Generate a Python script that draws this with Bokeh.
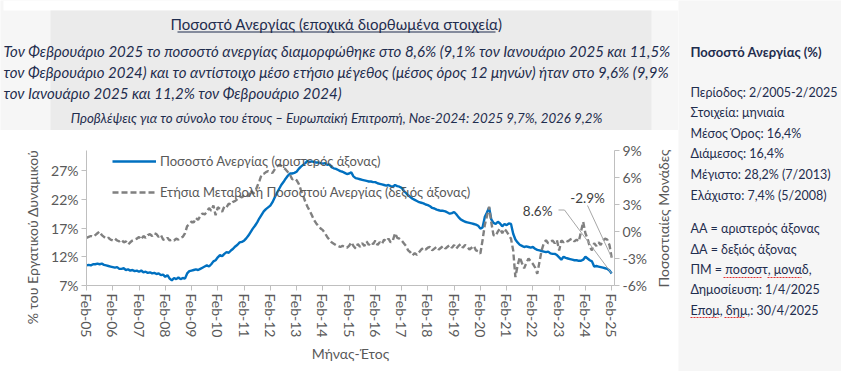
import math
from bokeh.plotting import figure
from bokeh.layouts import row, column
from bokeh.models import (Range1d, LinearAxis, FixedTicker, Label, Legend, LegendItem,
                          BoxAnnotation, Arrow)
from bokeh.embed import file_html
from bokeh.resources import INLINE

# ---------------- data ----------------
# unemployment rate, % (left axis), monthly Feb-2005 .. Feb-2025
u2005 = [10.0, 10.1, 10.0, 10.2, 10.2, 10.3, 10.2, 10.3, 10.1, 10.0, 9.9]
u2006 = [9.8, 9.7, 9.6, 9.7, 9.4, 9.4, 9.5, 9.2, 9.3, 9.1, 9.2, 9.0]
u2007 = [9.1, 8.9, 9.1, 8.8, 8.9, 8.7, 8.8, 8.6, 8.7, 8.5, 8.6, 8.3]
u2008 = [8.4, 8.0, 8.3, 7.7, 7.4, 7.8, 7.6, 7.9, 7.6, 7.8, 7.7, 8.6]
u2009 = [9.0, 9.1, 9.2, 9.3, 9.2, 9.4, 9.6, 9.8, 10.0, 9.8, 10.2, 10.7]
u2010 = [10.9, 11.4, 11.8, 11.6, 12.0, 12.3, 12.2, 12.6, 12.9, 13.3, 13.6, 14.0]
u2011 = [14.1, 14.3, 14.7, 15.2, 15.8, 16.4, 16.9, 17.5, 18.2, 18.8, 19.4, 19.8]
u2012 = [20.1, 20.4, 21.0, 21.8, 22.6, 23.3, 24.0, 24.5, 25.1, 25.6, 26.0, 26.0]
u2013 = [26.1, 26.3, 26.8, 27.2, 27.5, 27.8, 28.2, 28.0, 28.1, 28.0, 27.9, 27.9]
u2014 = [27.8, 27.7, 27.8, 27.5, 27.6, 27.1, 26.9, 26.8, 26.6, 26.4, 26.3, 26.1]
u2015 = [25.9, 26.0, 26.2, 25.5, 25.2, 25.1, 25.0, 24.9, 24.8, 24.7, 24.6, 24.6]
u2016 = [24.5, 24.5, 24.3, 24.2, 24.1, 24.0, 23.9, 24.0, 23.8, 23.7, 24.0, 23.8]
u2017 = [23.7, 23.5, 23.0, 22.6, 22.2, 21.9, 21.6, 21.4, 21.2, 21.0, 20.9, 20.8]
u2018 = [20.6, 20.5, 20.3, 20.0, 19.9, 19.7, 19.6, 19.5, 19.5, 19.4, 19.2, 19.0]
u2019 = [19.1, 19.3, 18.9, 18.4, 18.0, 17.8, 17.6, 17.5, 17.4, 17.3, 17.2, 17.1]
u2020 = [16.9, 16.4, 16.6, 18.4, 19.2, 20.1, 18.0, 17.4, 17.2, 17.6, 17.3, 16.8]
u2021 = [17.2, 17.0, 17.3, 17.2, 15.5, 14.5, 14.0, 13.6, 13.4, 13.2, 13.3, 13.2]
u2022 = [13.1, 13.2, 12.9, 12.7, 12.6, 12.5, 12.4, 12.3, 12.4, 12.1, 12.0, 12.0]
u2023 = [11.8, 11.4, 11.0, 11.5, 11.3, 11.2, 11.1, 11.0, 10.9, 10.9, 10.8, 10.8]
u2024 = [11.0, 11.5, 11.2, 10.9, 10.7, 9.8, 9.9, 9.8, 9.7, 9.6, 9.5, 9.4]
u2025 = [9.1, 8.6]

# annual change of the unemployment rate, percentage points (right axis)
d2005 = [-0.7, -0.6, -0.5, -0.6, -0.4, -0.2, 0.0, -0.4, -0.6, -0.8, -0.7]
d2006 = [-0.9, -1.0, -0.8, -1.0, -1.1, -0.9, -1.2, -1.1, -1.45, -1.2, -1.0, -0.9]
d2007 = [-0.8, -0.6, -0.9, -0.5, -0.7, -0.4, -0.3, -0.5, -0.2, -0.3, -0.6, -0.4]
d2008 = [-0.9, -0.95, -0.7, -1.0, -0.9, -1.0, -0.8, -0.9, -0.7, -0.6, -0.2, 0.6]
d2009 = [0.8, 1.1, 1.0, 1.5, 1.3, 1.7, 2.0, 1.9, 2.2, 2.6, 2.3, 2.9]
d2010 = [1.8, 2.7, 2.5, 2.2, 2.8, 2.7, 3.1, 3.0, 3.3, 3.4, 3.6, 3.9]
d2011 = [3.8, 4.0, 4.1, 3.9, 4.6, 4.2, 4.4, 5.0, 5.6, 6.3, 6.4, 6.6]
d2012 = [6.7, 6.6, 6.5, 6.9, 7.2, 7.4, 7.3, 7.1, 6.9, 6.6, 6.3, 5.8]
d2013 = [5.9, 5.7, 5.3, 4.6, 4.0, 3.3, 2.75, 2.3, 1.8, 1.26, 0.9, 0.6]
d2014 = [0.33, 0.15, -0.2, -0.6, -0.9, -1.2, -1.35, -1.5, -1.6, -1.72, -1.6, -1.7]
d2015 = [-1.8, -1.6, -1.2, -1.6, -1.9, -1.4, -1.7, -1.3, -1.6, -1.1, -1.5, -1.2]
d2016 = [-1.4, -1.0, -1.5, -1.2, -1.4, -0.9, -1.1, -0.8, -1.2, -1.0, -0.2, -0.7]
d2017 = [-0.8, -1.0, -1.3, -1.6, -2.1, -2.3, -2.65, -2.4, -2.6, -2.3, -2.0, -1.8]
d2018 = [-2.0, -1.8, -1.7, -2.1, -1.9, -1.7, -2.0, -1.8, -1.6, -1.9, -1.7, -1.5]
d2019 = [-1.8, -1.5, -1.9, -1.6, -1.4, -1.8, -1.5, -1.7, -2.0, -1.8, -1.6, -2.1]
d2020 = [-2.2, -2.45, -0.97, 0.7, 1.7, 2.75, 1.0, -0.4, -0.5, 0.0, 0.33, -0.2]
d2021 = [0.3, 0.0, -0.4, -0.8, -2.1, -5.07, -3.8, -2.85, -3.5, -4.1, -3.5, -3.0]
d2022 = [-3.3, -3.6, -4.0, -4.7, -3.4, -2.1, -1.3, -0.97, -1.3, -1.2, -1.0, -1.3]
d2023 = [-0.97, -2.1, -1.0, -1.2, -1.0, -1.1, -0.9, -0.8, -1.1, -0.9, -1.1, 0.0]
d2024 = [1.07, -0.2, -0.8, -1.7, -2.1, -1.3, -1.6, -1.2, -1.5, -1.0, -0.8, -0.9]
d2025 = [-1.5, -2.9]

x_tick_labels = ["Feb-05", "Feb-06", "Feb-07", "Feb-08", "Feb-09", "Feb-10", "Feb-11",
                 "Feb-12", "Feb-13", "Feb-14", "Feb-15", "Feb-16", "Feb-17", "Feb-18",
                 "Feb-19", "Feb-20", "Feb-21", "Feb-22", "Feb-23", "Feb-24", "Feb-25"]
left_tick_values = [6.5, 11.5, 16.5, 21.5, 26.5]
left_tick_labels = ["7%", "12%", "17%", "22%", "27%"]
right_tick_values = [-6, -3, 0, 3, 6, 9]
right_tick_labels = ["-6%", "-3%", "0%", "3%", "6%", "9%"]

series_names = ["Ποσοστό Ανεργίας (αριστερός άξονας)",
                "Ετήσια Μεταβολή Ποσοστού Ανεργίας (δεξιός άξονας)"]
end_labels = ["8.6%", "-2.9%"]

unemp = (u2005 + u2006 + u2007 + u2008 + u2009 + u2010 + u2011 + u2012 + u2013 + u2014 +
         u2015 + u2016 + u2017 + u2018 + u2019 + u2020 + u2021 + u2022 + u2023 + u2024 + u2025)
change = (d2005 + d2006 + d2007 + d2008 + d2009 + d2010 + d2011 + d2012 + d2013 + d2014 +
          d2015 + d2016 + d2017 + d2018 + d2019 + d2020 + d2021 + d2022 + d2023 + d2024 + d2025)
month_idx = list(range(len(unemp)))          # 0 = Feb-2005
x_ticks = list(range(0, len(unemp), 12))

# ---------------- styling ----------------
FONT = "Lato"
NAVY = "#1f2d4e"
GREY = "#595959"
LIGHT = "#f6f6f6"


def no_align(f):
    try:
        f.frame_align = False
    except Exception:
        pass


def panel(x0, x1, y0, y1, bg):
    """A plain drawing surface whose data coordinates equal page-image pixels."""
    f = figure(width=x1 - x0, height=y1 - y0, output_backend="svg", toolbar_location=None,
               x_range=Range1d(x0, x1), y_range=Range1d(y1, y0),
               x_axis_location=None, y_axis_location=None, min_border=0,
               background_fill_color=bg, border_fill_color=bg, outline_line_color=None)
    f.grid.visible = False
    no_align(f)
    return f


def put(f, x, y, s, size="14px", color=NAVY, style="normal", align="left", angle=0.0):
    f.add_layout(Label(x=x, y=y, text=s, text_font=FONT, text_font_size=size,
                       text_color=color, text_font_style=style, text_align=align,
                       text_baseline="middle", angle=angle))


def box(f, l, r, t, b, color):
    f.add_layout(BoxAnnotation(left=l, right=r, top=t, bottom=b, fill_color=color,
                               fill_alpha=1, line_color=None, level="underlay"))


def squiggle(f, x0, x1, y):
    f.add_layout(Arrow(x_start=x0, y_start=y, x_end=x1, y_end=y, start=None, end=None,
                       line_color="#e03030", line_width=1.2, line_dash="2 1"))


# ---------------- header ----------------
hdr = panel(0, 678, 0, 130, LIGHT)
box(hdr, 3, 678, 0, 10, "white")
box(hdr, 50, 651, 10, 130, "#ebebeb")
put(hdr, 336, 23, "Ποσοστό Ανεργίας (εποχικά διορθωμένα στοιχεία)", size="15px",
    align="center")
box(hdr, 177, 495, 31, 32, NAVY)
para = ["Τον Φεβρουάριο 2025 το ποσοστό ανεργίας διαμορφώθηκε στο 8,6% (9,1% τον Ιανουάριο 2025 και 11,5%",
        "τον Φεβρουάριο 2024) και το αντίστοιχο μέσο ετήσιο μέγεθος (μέσος όρος 12 μηνών) ήταν στο 9,6% (9,9%",
        "τον Ιανουάριο 2025 και 11,2% τον Φεβρουάριο 2024)"]
for i, s in enumerate(para):
    put(hdr, 3, 50 + 21 * i, s, size="15px", style="italic")
put(hdr, 336, 117,
    "Προβλέψεις για το σύνολο του έτους – Ευρωπαϊκή Επιτροπή, Νοε-2024: 2025 9,7%, 2026 9,2%",
    size="13.3px", style="italic", align="center")

# ---------------- left axis title strip ----------------
ltl = panel(0, 48, 130, 371, "white")
put(ltl, 32, 236.5, "% του Εργατικού Δυναμικού", size="14px", color=GREY, align="center",
    angle=math.pi / 2)

# ---------------- chart ----------------
p = figure(width=602, height=241, output_backend="svg", toolbar_location=None,
           x_range=Range1d(0, 241.3), y_range=Range1d(6.5, 30.0),
           min_border_left=35, min_border_right=35, min_border_top=20, min_border_bottom=86,
           background_fill_color="white", border_fill_color="white",
           outline_line_color=None)
no_align(p)
p.extra_y_ranges = {"right": Range1d(-6, 9)}
p.xgrid.visible = False
p.ygrid.visible = False


def style_axis(ax):
    ax.axis_line_color = "#bfbfbf"
    ax.major_tick_line_color = "#bfbfbf"
    ax.major_tick_out = 5
    ax.major_tick_in = 0
    ax.minor_tick_line_color = None
    ax.major_label_text_color = GREY
    ax.major_label_text_font = FONT
    ax.major_label_text_font_size = "14px"
    ax.major_label_standoff = 3
    ax.axis_label_text_font = FONT
    ax.axis_label_text_font_size = "14px"
    ax.axis_label_text_font_style = "normal"
    ax.axis_label_text_color = GREY


xa = p.xaxis[0]
xa.ticker = FixedTicker(ticks=x_ticks)
xa.major_label_overrides = {t: lab for t, lab in zip(x_ticks, x_tick_labels)}
xa.major_label_orientation = "vertical"
style_axis(xa)
xa.axis_label = "Μήνας-Έτος"
xa.axis_label_standoff = 5

ya = p.yaxis[0]
ya.ticker = FixedTicker(ticks=left_tick_values)
ya.major_label_overrides = {t: lab for t, lab in zip(left_tick_values, left_tick_labels)}
style_axis(ya)

ra = LinearAxis(y_range_name="right", ticker=FixedTicker(ticks=right_tick_values))
ra.major_label_overrides = {t: lab for t, lab in zip(right_tick_values, right_tick_labels)}
style_axis(ra)
p.add_layout(ra, "right")

r1 = p.line(month_idx, unemp, line_color="#0070c0", line_width=2.4)
r2 = p.line(month_idx, change, line_color="#808080", line_width=2.4, line_dash="6 3",
            y_range_name="right")

legend = Legend(items=[LegendItem(label=series_names[0], renderers=[r1]),
                       LegendItem(label=series_names[1], renderers=[r2])],
                location=(26, 83), background_fill_alpha=0, border_line_color=None,
                label_text_font=FONT, label_text_font_size="13px", label_text_color=GREY,
                glyph_width=44, glyph_height=20, label_height=20, spacing=11,
                padding=0, margin=0, label_standoff=4)
p.add_layout(legend)


# frame-relative screen coordinates (frame left = 83 px, frame bottom = 285 px of the image)
def fx(x):
    return x - 83


def fy(y):
    return 285 - y


for s, x, y, al in [(end_labels[0], 549, 210, "right"), (end_labels[1], 584, 197, "center")]:
    p.add_layout(Label(x=fx(x), y=fy(y), x_units="screen", y_units="screen", text=s,
                       text_font=FONT, text_font_size="13.5px", text_color="#404040",
                       text_align=al, text_baseline="middle"))
p.add_layout(Arrow(x_start=fx(555), y_start=fy(209.5), x_end=fx(561), y_end=fy(209.5),
                   start_units="screen", end_units="screen", start=None, end=None,
                   line_color="#a6a6a6", line_width=1))
p.add_layout(Arrow(x_start=fx(561), y_start=fy(209.5), x_end=month_idx[-1], y_end=unemp[-1],
                   start_units="screen", end_units="data", start=None, end=None,
                   line_color="#a6a6a6", line_width=1))
p.add_layout(Arrow(x_start=fx(584), y_start=fy(205), x_end=month_idx[-1], y_end=change[-1],
                   start_units="screen", end_units="data", start=None, end=None,
                   y_range_name="right", line_color="#a6a6a6", line_width=1))

# right axis title strip
rtl = panel(650, 678, 130, 371, "white")
put(rtl, 663, 218, "Ποσοστιαίες Μονάδες", size="14px", color=GREY, align="center",
    angle=math.pi / 2)

# ---------------- right info panel ----------------
rp = panel(678, 841, 0, 371, LIGHT)
put(rp, 690, 51, "Ποσοστό Ανεργίας (%)", size="13px", style="bold")
info = [("Περίοδος: 2/2005-2/2025", 92), ("Στοιχεία: μηνιαία", 112),
        ("Μέσος Όρος: 16,4%", 132.5), ("Διάμεσος: 16,4%", 153),
        ("Μέγιστο: 28,2% (7/2013)", 174), ("Ελάχιστο: 7,4% (5/2008)", 194.5),
        ("ΑΑ = αριστερός άξονας", 227.5), ("ΔΑ = δεξιός άξονας", 248.5),
        ("ΠΜ = ποσοστ, μοναδ,", 269), ("Δημοσίευση: 1/4/2025", 289),
        ("Επομ, δημ,: 30/4/2025", 309.5)]
for s, y in info:
    put(rp, 690, y, s, size="12.5px")
# spell-check marks shown under a few abbreviations in the original
squiggle(rp, 723, 762, 277)
squiggle(rp, 767, 801, 277)
squiggle(rp, 690, 718, 317)
squiggle(rp, 724, 745, 317)

layout = row(column(hdr, row(ltl, p, rtl, spacing=0), spacing=0), rp, spacing=0)
open("out.html", "w").write(file_html(layout, INLINE))
